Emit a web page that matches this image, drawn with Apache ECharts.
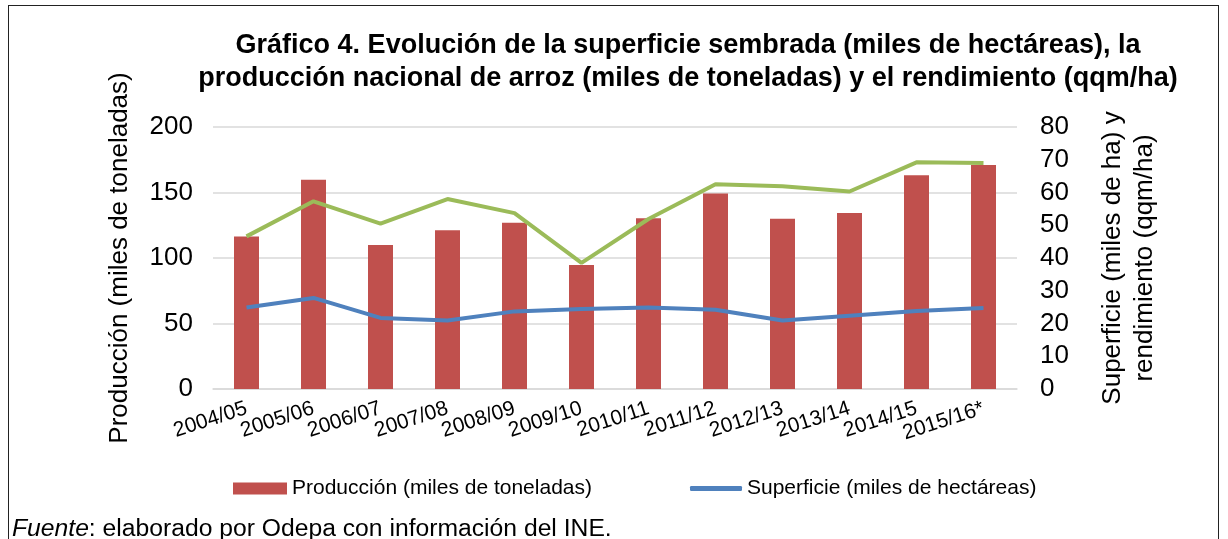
<!DOCTYPE html>
<html>
<head>
<meta charset="utf-8">
<script src="https://cdn.jsdelivr.net/npm/echarts@6/dist/echarts.min.js"></script>
<style>
  html, body { margin: 0; padding: 0; background: #fff; }
  #wrap { position: relative; width: 1228px; height: 539px; overflow: hidden; }
  #frame { position: absolute; left: 8px; top: 5px; width: 1211px; height: 560px; border: 1.5px solid #222; box-sizing: border-box; }
  #c { position: absolute; left: 0; top: 0; width: 1228px; height: 539px; }
  #src { position: absolute; left: 12px; top: 515px; font: 24.7px/25px "Liberation Sans", Arial, sans-serif; color: #000; white-space: nowrap; }
</style>
</head>
<body>
<div id="wrap">
  <div id="frame"></div>
  <div id="c"></div>
  <div id="src"><i>Fuente</i>: elaborado por Odepa con información del INE.</div>
</div>
<script>
(() => {
  "use strict";
  const campaigns = ["2004/05", "2005/06", "2006/07", "2007/08", "2008/09", "2009/10", "2010/11", "2011/12", "2012/13", "2013/14", "2014/15", "2015/16*"];
  const produccion = [116.5, 159.8, 109.9, 121.1, 127, 94.7, 130.3, 149.3, 130, 134.4, 163.1, 171];
  const superficie = [24.9, 27.8, 21.7, 20.9, 23.7, 24.4, 24.9, 24.2, 20.9, 22.4, 23.8, 24.7];
  const rendimiento = [46.6, 57.3, 50.5, 58, 53.7, 38.5, 51.9, 62.5, 61.9, 60.3, 69.2, 69];

  const FONT = '"Liberation Sans", Arial, sans-serif';
  const C = { bar: "#C0504D", sup: "#4F81BD", ren: "#9BBB59", grid: "#d9d9d9" };
  const NAME_P = "Producción (miles de toneladas)", NAME_S = "Superficie (miles de hectáreas)";

  const chart = echarts.init(document.getElementById("c"));
  chart.setOption({
    animation: false,
    textStyle: { fontFamily: FONT, color: "#000" },
    graphic: [{
      type: "text", x: 688, y: 29, silent: true,
      style: {
        text: "Gráfico 4. Evolución de la superficie sembrada (miles de hectáreas), la\nproducción nacional de arroz (miles de toneladas) y el rendimiento (qqm/ha)",
        align: "center", font: "bold 27px " + FONT, lineHeight: 33, fill: "#000",
      },
    }],
    grid: { left: 213, right: 211, top: 127, bottom: 150 },
    legend: [
      {
        data: [NAME_P], top: 473, left: 228, itemWidth: 54, itemHeight: 12, icon: "rect",
        textStyle: { fontFamily: FONT, fontSize: 21, color: "#000" },
      },
      {
        data: [NAME_S], top: 473, left: 685, itemWidth: 52, itemHeight: 5, icon: "roundRect",
        textStyle: { fontFamily: FONT, fontSize: 21, color: "#000" },
      },
    ],
    xAxis: {
      type: "category", data: campaigns,
      axisLine: { lineStyle: { color: C.grid, width: 1.5 } },
      axisTick: { show: false },
      axisLabel: { rotate: 18, fontSize: 21, color: "#000", margin: 19, interval: 0 },
    },
    yAxis: [
      {
        type: "value", min: 0, max: 200, interval: 50,
        name: "Producción (miles de toneladas)", nameLocation: "middle", nameGap: 80, nameRotate: 90,
        nameTextStyle: { fontSize: 26, color: "#000" },
        axisLabel: { fontSize: 26, color: "#000", margin: 20 },
        splitLine: { lineStyle: { color: C.grid, width: 1.5 } },
      },
      {
        type: "value", min: 0, max: 80, interval: 10, position: "right",
        name: "Superficie (miles de ha) y\nrendimiento (qqm/ha)", nameLocation: "middle", nameGap: 80, nameRotate: 90,
        nameTextStyle: { fontSize: 26, color: "#000", lineHeight: 32 },
        axisLabel: { fontSize: 26, color: "#000", margin: 23 },
        splitLine: { show: false },
      },
    ],
    series: [
      { name: NAME_P, type: "bar", data: produccion, barWidth: 25, itemStyle: { color: C.bar } },
      { name: NAME_S, type: "line", yAxisIndex: 1, data: superficie, symbol: "none", lineStyle: { color: C.sup, width: 4 }, itemStyle: { color: C.sup } },
      { name: "Rendimiento (qqm/ha)", type: "line", yAxisIndex: 1, data: rendimiento, symbol: "none", lineStyle: { color: C.ren, width: 4 }, itemStyle: { color: C.ren } },
    ],
  });
})();
</script>
</body>
</html>
